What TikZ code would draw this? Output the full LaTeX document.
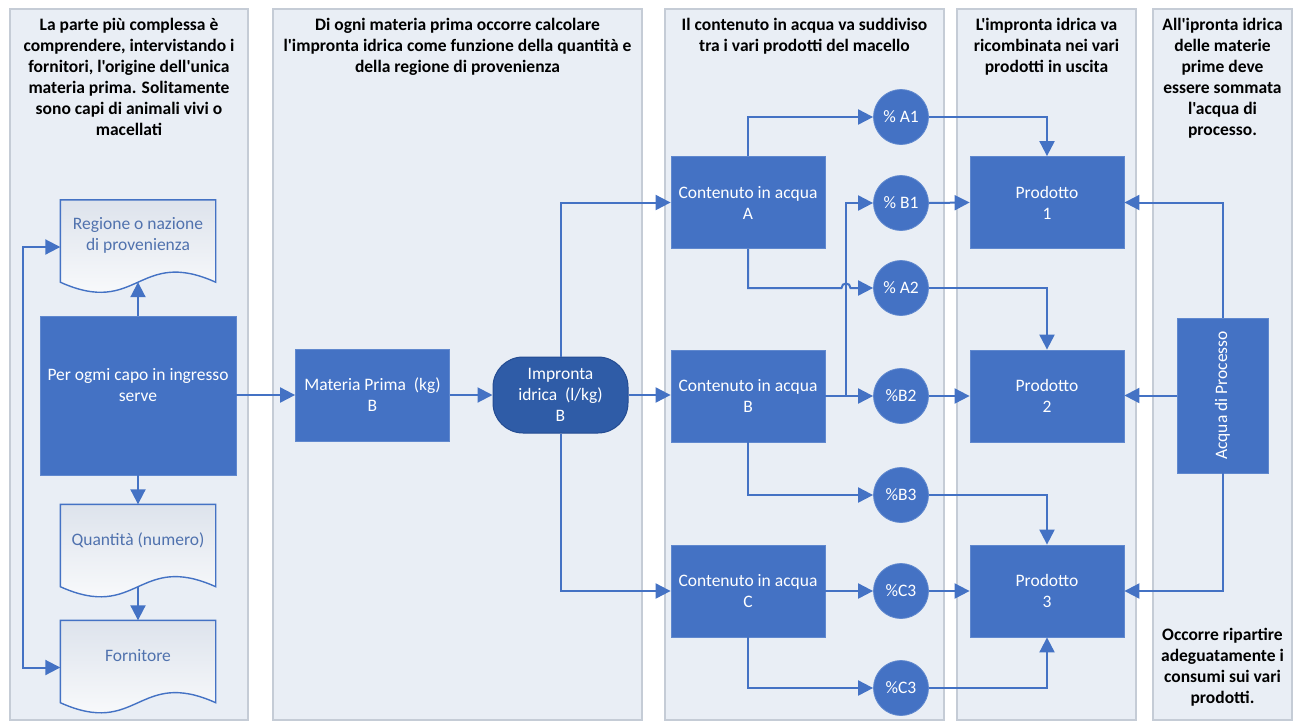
\documentclass[tikz,border=0pt]{standalone}
\usepackage{fontspec}
\setmainfont{Carlito}[Ligatures=TeXOff]
\usetikzlibrary{arrows.meta,calc}
\definecolor{boxblue}{HTML}{4472C4}
\definecolor{boxedge}{HTML}{6088CE}
\definecolor{darkblue}{HTML}{2F5CA7}
\definecolor{darkedge}{HTML}{244C92}
\definecolor{lanefill}{HTML}{E9EEF5}
\definecolor{laneedge}{HTML}{C5CCD6}
\definecolor{arrowblue}{HTML}{4472C4}
\definecolor{doctext}{HTML}{5072AE}
\definecolor{docshade}{HTML}{DDE3EC}
\newcommand{\docoutline}[1]{%
  \path[docline] (#1.north west) -- (#1.north east) -- (#1.south east)
    .. controls ($(#1.south)+(0,-35)$) and ($(#1.south)+(0,35)$) .. (#1.south west) -- cycle;}
\begin{document}
\begin{tikzpicture}[x=1pt,y=-1pt,
  lane/.style={fill=lanefill,draw=laneedge,line width=1.2pt},
  hdr/.style={font=\bfseries\fontsize{17.5}{21}\selectfont,align=center,anchor=north,inner sep=0pt},
  btxt/.style={font=\fontsize{17.5}{21}\selectfont,align=center,text=white,inner sep=0pt},
  box/.style={rectangle,fill=boxblue,draw=boxedge,line width=0.8pt,text=white,
    font=\fontsize{17.5}{21}\selectfont,align=center,minimum width=154pt,minimum height=92pt,inner sep=0pt},
  term/.style={rectangle,rounded corners=30pt,fill=darkblue,draw=darkedge,line width=1pt,text=white,
    font=\fontsize{17.5}{21}\selectfont,align=center,minimum width=135pt,minimum height=76pt,inner sep=0pt},
  pct/.style={circle,fill=boxblue,draw=boxedge,line width=0.8pt,text=white,
    font=\fontsize{17.5}{21}\selectfont,minimum size=55pt,inner sep=0pt},
  docbox/.style={rectangle,minimum width=155pt,minimum height=82pt,inner sep=0pt},
  docline/.style={draw=boxblue,line width=1.4pt,top color=docshade,bottom color=white},
  dtxt/.style={font=\fontsize{17.5}{21}\selectfont,align=center,text=doctext,inner sep=0pt},
  arr/.style={draw=arrowblue,line width=2pt,-{Triangle[length=15pt,width=15pt]}},
  darr/.style={draw=arrowblue,line width=2pt,{Triangle[length=15pt,width=15pt]}-{Triangle[length=15pt,width=15pt]}}
]
\fill[white] (0,0) rectangle (1300,721);
\useasboundingbox (0,0) rectangle (1300,721);

% lanes
\path[lane] (10,9) rectangle (248,720);
\path[lane] (273,9) rectangle (642,720);
\path[lane] (665,9) rectangle (944,720);
\path[lane] (957,9) rectangle (1136,720);
\path[lane] (1153,9) rectangle (1292,720);

% headers
\node[hdr] (h1) at (129,16.5) {\rule{0pt}{14pt}La parte più complessa è\\comprendere, intervistando i\\fornitori, l'origine dell'unica\\materia prima. Solitamente\\sono capi di animali vivi o\\macellati};
\node[hdr] (h2) at (457.5,16.5) {\rule{0pt}{14pt}Di ogni materia prima occorre calcolare\\l'impronta idrica come funzione della quantità e\\della regione di provenienza};
\node[hdr] (h3) at (804.5,16.5) {\rule{0pt}{14pt}Il contenuto in acqua va suddiviso\\tra i vari prodotti del macello};
\node[hdr] (h4) at (1046.5,16.5) {\rule{0pt}{14pt}L'impronta idrica va\\ricombinata nei vari\\prodotti in uscita};
\node[hdr] (h5) at (1222.5,16.5) {\rule{0pt}{14pt}All'ipronta idrica\\delle materie\\prime deve\\essere sommata\\l'acqua di\\processo.};
\node[hdr,anchor=center] (f5) at (1222.5,667) {Occorre ripartire\\adeguatamente i\\consumi sui vari\\prodotti.};

% lane 1
\node[docbox] (reg) at (138,241) {};
\docoutline{reg}
\node[dtxt] (regT) at ($(reg.center)+(0,-5.5)$) {Regione o nazione\\di provenienza};
\node[box,minimum width=196pt,minimum height=159pt] (per) at (138,395.5) {};
\node[btxt] (perT) at (138,385.5) {Per ogmi capo in ingresso\\serve};
\node[docbox] (qua) at (138,545.5) {};
\docoutline{qua}
\node[dtxt] (quaT) at ($(qua.center)+(0,-5.5)$) {Quantità (numero)};
\node[docbox] (for) at (138,661.5) {};
\docoutline{for}
\node[dtxt] (forT) at ($(for.center)+(0,-5.5)$) {Fornitore};

% lane 2
\node[box] (mat) at (372.5,395) {Materia Prima\ \ (kg)\\B};
\node[term] (imp) at (560.5,395) {Impronta\\idrica\ \ (l/kg)\\B};

% lane 3
\node[box] (cA) at (748,202.5) {Contenuto in acqua\\A};
\node[box] (cB) at (748,396) {Contenuto in acqua\\B};
\node[box] (cC) at (748,591) {Contenuto in acqua\\C};
\node[pct] (A1) at (901,117) {\% A1};
\node[pct] (B1) at (901,203) {\% B1};
\node[pct] (A2) at (901,288) {\% A2};
\node[pct] (B2) at (901,396) {\%B2};
\node[pct] (B3) at (901,495) {\%B3};
\node[pct] (C3) at (901,591) {\%C3};
\node[pct] (C3b) at (901,688) {\%C3};

% lane 4
\node[box] (P1) at (1047,202.5) {Prodotto\\1};
\node[box] (P2) at (1047,396) {Prodotto\\2};
\node[box] (P3) at (1047,591) {Prodotto\\3};

% lane 5
\node[box,minimum width=91pt,minimum height=155pt] (acq) at (1222.5,395.5) {};
\node[btxt,rotate=90] (acqT) at (acq.center) {Acqua di Processo};

% connectors lane 1
\draw[arr] (per.north) -- (reg.south);
\draw[arr] (per.south) -- (qua.north);
\draw[arr] (qua.south) -- (for.north);
\coordinate (regW) at ($(reg.west)+(0,6)$);
\coordinate (forW) at ($(for.west)+(0,6)$);
\draw[darr] (regW) -- ++(-37,0) |- (forW);
\draw[arr] (per.east |- mat.west) -- (mat.west);

% lane 2
\draw[arr] (mat.east) -- (imp.west);
\draw[arr] (imp.east) -- (imp.east -| cB.west);
\draw[arr] (imp.north) |- (cA.west);
\draw[arr] (imp.south) |- (cC.west);

% lane 3
\draw[arr] (cA.north) |- (A1.west);
\coordinate (hopL) at ($(cA.south |- A2.west)+(93.5,0)$);
\coordinate (hopR) at ($(hopL)+(9,0)$);
\draw[arr] (cA.south) |- (hopL) .. controls ($(hopL)+(0,-6)$) and ($(hopR)+(0,-6)$) .. (hopR) -- (A2.west);
\draw[arr] (cB.east) -- (B2.west);
\coordinate (jB) at ($(cB.east)+(21,0)$);
\draw[arr] (jB) |- (B1.west);
\draw[arr] (cB.south) |- (B3.west);
\draw[arr] (cC.east) -- (C3.west);
\draw[arr] (cC.south) |- (C3b.west);

% lane 4
\draw[arr] (A1.east) -| (P1.north);
\draw[arr] (B1.east) -- (P1.west);
\draw[arr] (A2.east) -| (P2.north);
\draw[arr] (B2.east) -- (P2.west);
\draw[arr] (B3.east) -| (P3.north);
\draw[arr] (C3.east) -- (P3.west);
\draw[arr] (C3b.east) -| (P3.south);

% lane 5
\draw[arr] (acq.north) |- (P1.east);
\draw[arr] (acq.west) -- (acq.west -| P2.east);
\draw[arr] (acq.south) |- (P3.east);
\end{tikzpicture}
\end{document}
